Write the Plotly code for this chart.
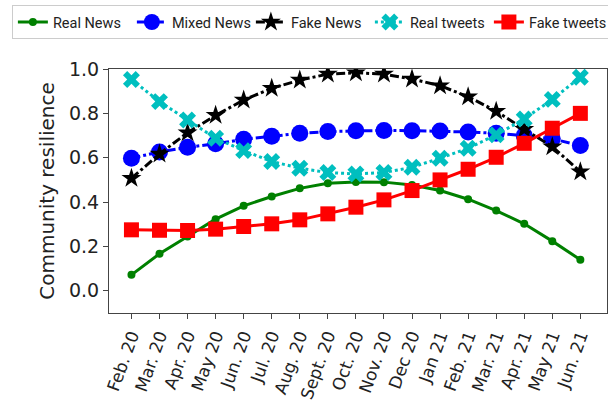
import plotly.graph_objects as go

months = ["Feb. 20", "Mar. 20", "Apr. 20", "May 20", "Jun. 20", "Jul. 20", "Aug. 20",
          "Sept. 20", "Oct. 20", "Nov. 20", "Dec 20", "Jan 21", "Feb. 21", "Mar. 21",
          "Apr. 21", "May 21", "Jun. 21"]

real_news = [0.072, 0.167, 0.245, 0.323, 0.383, 0.425, 0.462, 0.485, 0.491, 0.490,
             0.477, 0.452, 0.413, 0.362, 0.302, 0.224, 0.140]
mixed_news = [0.598, 0.626, 0.647, 0.663, 0.683, 0.697, 0.710, 0.718, 0.722, 0.723,
              0.722, 0.720, 0.716, 0.710, 0.700, 0.685, 0.655]
fake_news = [0.507, 0.617, 0.713, 0.791, 0.860, 0.913, 0.950, 0.977, 0.983, 0.977,
             0.955, 0.925, 0.875, 0.810, 0.728, 0.650, 0.537]
real_tweets = [0.953, 0.853, 0.770, 0.688, 0.632, 0.583, 0.553, 0.533, 0.527, 0.533,
               0.557, 0.598, 0.643, 0.703, 0.775, 0.863, 0.963]
fake_tweets = [0.275, 0.273, 0.272, 0.278, 0.290, 0.302, 0.320, 0.347, 0.377, 0.410,
               0.452, 0.500, 0.548, 0.602, 0.665, 0.733, 0.800]

x = list(range(len(months)))

fig = go.Figure()
fig.add_trace(go.Scatter(x=x, y=real_news, name="Real News", mode="lines+markers",
                         line=dict(color="green", width=3),
                         marker=dict(symbol="circle", size=8, color="green")))
fig.add_trace(go.Scatter(x=x, y=mixed_news, name="Mixed News", mode="lines+markers",
                         line=dict(color="blue", width=3, dash="dashdot"),
                         marker=dict(symbol="circle", size=17, color="blue")))
fig.add_trace(go.Scatter(x=x, y=fake_news, name="Fake News", mode="lines+markers",
                         line=dict(color="black", width=3, dash="dashdot"),
                         marker=dict(symbol="star", size=15, color="black")))
fig.add_trace(go.Scatter(x=x, y=real_tweets, name="Real tweets", mode="lines+markers",
                         line=dict(color="#00BFBF", width=3, dash="dot"),
                         marker=dict(symbol="x", size=15, color="#00BFBF")))
fig.add_trace(go.Scatter(x=x, y=fake_tweets, name="Fake tweets", mode="lines+markers",
                         line=dict(color="red", width=3),
                         marker=dict(symbol="square", size=15, color="red")))

fig.update_layout(
    width=608, height=407,
    margin=dict(l=109, r=1, t=69, b=94, autoexpand=False),
    plot_bgcolor="white", paper_bgcolor="white",
    font=dict(family="DejaVu Sans", color="#222"),
    legend=dict(orientation="h", xref="paper", yref="paper",
                x=-0.195, y=1.262, xanchor="left", yanchor="top",
                bordercolor="#ccc", borderwidth=1,
                font=dict(family="Roboto", size=14.5),
                itemwidth=30, tracegroupgap=0,
                entrywidth=74, entrywidthmode="pixels"),
    xaxis=dict(tickvals=x, ticktext=months, range=[-0.8, 16.95], tickangle=-70,
               showline=True, linecolor="#444", linewidth=1, mirror=True,
               ticks="outside", ticklen=5, tickcolor="#444",
               tickfont=dict(size=17), showgrid=False, zeroline=False),
    yaxis=dict(range=[-0.1, 1.0], tickvals=[0, 0.2, 0.4, 0.6, 0.8, 1.0],
               ticktext=["0.0", "0.2", "0.4", "0.6", "0.8", "1.0"],
               showline=True, linecolor="#444", linewidth=1, mirror=True,
               ticks="outside", ticklen=5, tickcolor="#444",
               tickfont=dict(size=19), showgrid=False, zeroline=False,
               title=dict(text="Community resilience", font=dict(size=20), standoff=8)),
)

fig.write_html("out.html", config={"displayModeBar": False},
               post_script="document.body.style.margin='0';")
